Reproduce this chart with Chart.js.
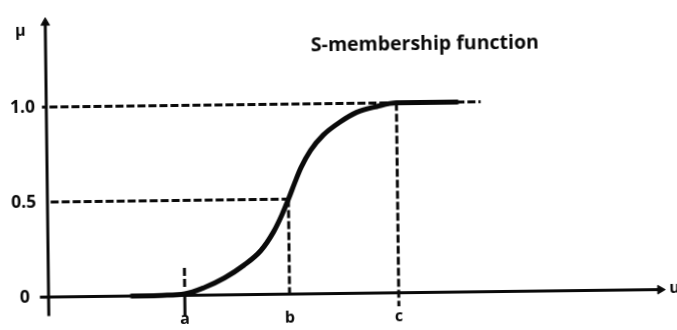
<!DOCTYPE html>
<html>
<head>
<meta charset="utf-8">
<script src="https://cdn.jsdelivr.net/npm/chart.js@4/dist/chart.umd.min.js"></script>
<style>
  html, body { margin: 0; padding: 0; background: #fff; overflow: hidden; }
  #wrap { width: 677px; height: 330px; position: relative; }
  /* the printed figure sits slightly askew on the page */
  #chart { transform: rotate(-0.7deg); transform-origin: 50% 50%; }
</style>
</head>
<body>
<div id="wrap"><canvas id="chart"></canvas></div>
<script>
"use strict";

// S-shaped membership curve, u against mu
const curveU  = [0.77, 1.05, 1.26, 1.44, 1.63, 1.81, 1.97, 2.09, 2.17, 2.23, 2.29, 2.35, 2.44, 2.56, 2.71, 2.87, 3.06, 3.24, 3.80];
const curveMu = [0.00, 0.002, 0.008, 0.04, 0.09, 0.155, 0.232, 0.33, 0.42, 0.50, 0.585, 0.665, 0.755, 0.835, 0.90, 0.952, 0.982, 1.00, 1.00];

// break points on the u axis
const breakNames = ["a", "b", "c"];
const breakU = [1.26, 2.23, 3.24];

// mu levels marked on the vertical axis
const muLevels = [0, 0.5, 1.0];
const muLabels = ["0", "0.5", "1.0"];

const TITLE = "S-membership function";
const INK = "#0a0a0a";
const U_MAX = 5.66;
const MU_TOP = 1.444;
const FONT = "'Open Sans', 'DejaVu Sans', sans-serif";

function seg(x0, y0, x1, y1, opts) {
  return Object.assign({
    data: [{ x: x0, y: y0 }, { x: x1, y: y1 }],
    showLine: true,
    borderColor: INK,
    borderWidth: 3,
    pointRadius: 0,
    clip: false,
  }, opts || {});
}

const dash = { borderDash: [8, 3], borderWidth: 3 };

function arrowHead(x, y, rotation) {
  return {
    data: [{ x, y }],
    pointStyle: "triangle",
    pointRadius: 5,
    pointRotation: rotation,
    backgroundColor: INK,
    borderColor: INK,
    borderWidth: 1,
    clip: false,
  };
}

const datasets = [];

// axes with arrow heads
datasets.push(seg(0, -0.1, 0, MU_TOP));
datasets.push(seg(-0.08, 0, U_MAX, 0));
datasets.push(arrowHead(0, MU_TOP, 0));
datasets.push(arrowHead(U_MAX, 0, 90));

// small ticks left of the vertical axis
datasets.push(seg(-0.05, 0, 0, 0));
datasets.push(seg(-0.04, 1.0, 0, 1.0));

// horizontal guides at 0.5 and 1.0
datasets.push(seg(0.03, 0.5, breakU[1], 0.5, dash));
datasets.push(seg(0.03, 1.0, 4.02, 1.0, dash));

// vertical guides at a, b, c
datasets.push(seg(breakU[0], 0.145, breakU[0], 0.04, dash));
datasets.push(seg(breakU[0], 0, breakU[0], -0.11));
datasets.push(seg(breakU[1], 0.5, breakU[1], 0, dash));
datasets.push(seg(breakU[2], 1.0, breakU[2], -0.07, dash));

// the curve itself, drawn last so it sits on top
datasets.push({
  data: curveU.map((u, i) => ({ x: u, y: curveMu[i] })),
  showLine: true,
  borderColor: INK,
  borderWidth: 5,
  pointRadius: 0,
  cubicInterpolationMode: "monotone",
  borderCapStyle: "round",
  clip: false,
});

const labelsPlugin = {
  id: "labels",
  afterDatasetsDraw(chart) {
    const { ctx, scales: { x, y } } = chart;
    ctx.save();
    ctx.fillStyle = INK;
    ctx.textAlign = "center";
    ctx.textBaseline = "middle";

    ctx.font = `bold 17.5px ${FONT}`;
    muLabels.forEach((t, i) => {
      ctx.fillText(t, x.getPixelForValue(-0.22), y.getPixelForValue(muLevels[i]));
    });

    ctx.font = `bold 16px ${FONT}`;
    ctx.fillText("\u03bc", x.getPixelForValue(-0.23), y.getPixelForValue(1.40));
    breakNames.forEach((t, i) => {
      ctx.fillText(t, x.getPixelForValue(breakU[i]), y.getPixelForValue(0) + 24);
    });
    ctx.textAlign = "left";
    ctx.fillText("u", x.getPixelForValue(U_MAX) + 9, y.getPixelForValue(0) - 1);

    ctx.textAlign = "center";
    ctx.font = `bold 19.5px ${FONT}`;
    ctx.fillText(TITLE, x.getPixelForValue(3.51), y.getPixelForValue(1.304));
    ctx.restore();
  },
};

new Chart(document.getElementById("chart"), {
  type: "scatter",
  data: { datasets },
  options: {
    responsive: true,
    maintainAspectRatio: false,
    animation: false,
    layout: { padding: { left: 47, right: 14, top: 18, bottom: 4 } },
    scales: {
      x: { type: "linear", min: 0, max: 5.7, display: false },
      y: { type: "linear", min: -0.16, max: 1.45, display: false },
    },
    plugins: {
      legend: { display: false },
      tooltip: { enabled: false },
    },
    events: [],
  },
  plugins: [labelsPlugin],
});
</script>
</body>
</html>
